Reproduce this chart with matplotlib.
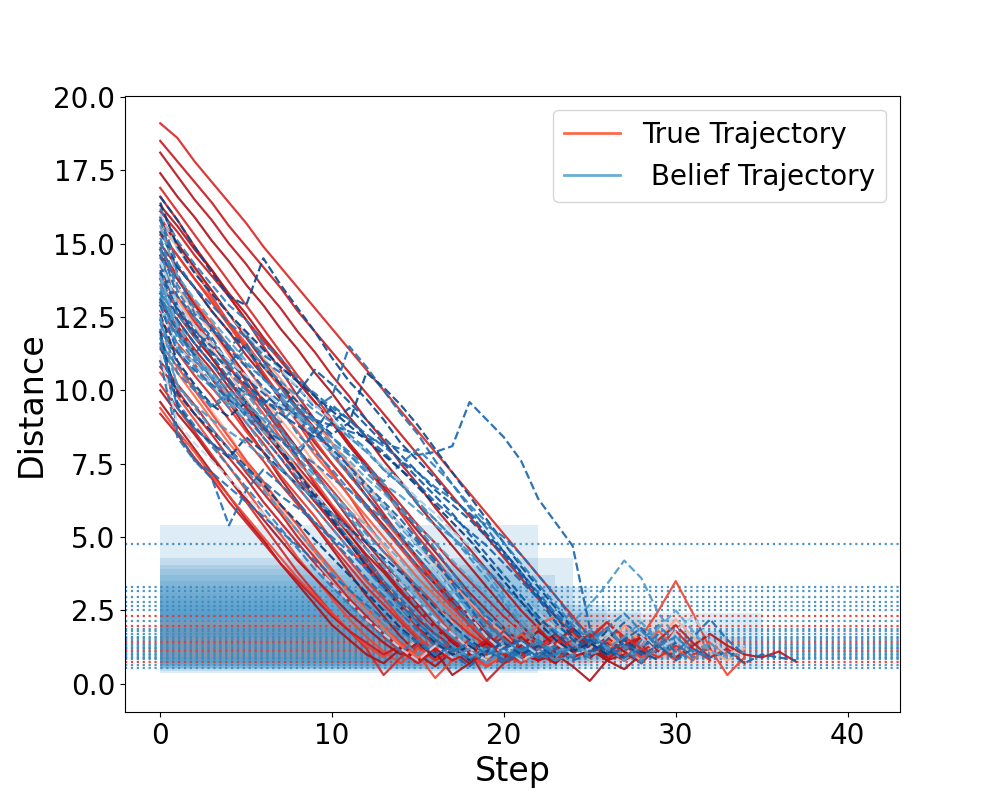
import matplotlib
matplotlib.use("Agg")
import matplotlib.pyplot as plt
from matplotlib.lines import Line2D

# true distance per step (solid red) for each episode
true_trajs = [
    [19.1,18.6,17.8,17.1,16.4,15.7,14.9,14.2,13.5,12.8,12.1,11.4,10.7,10.0,9.3,8.6,7.9,7.2,6.5,5.8,5.1,4.4,3.7,3.0,2.3,1.6,1.1,1.5,0.9,1.3,1.8,1.2,0.8],
    [18.5,17.8,17.1,16.4,15.6,14.9,14.2,13.5,12.7,12.0,11.3,10.6,9.9,9.2,8.5,7.8,7.1,6.4,5.7,5.0,4.3,3.6,2.9,2.3,1.7,1.2,0.9,1.3],
    [18.1,17.3,16.5,15.8,15.0,14.3,13.5,12.8,12.0,11.3,10.5,9.8,9.0,8.3,7.5,6.8,6.0,5.3,4.6,3.9,3.2,2.5,1.9,1.3,0.9,1.2,1.6,1.1,0.7,1.3,0.9],
    [17.4,16.6,15.9,15.1,14.4,13.6,12.9,12.1,11.4,10.6,9.9,9.1,8.4,7.6,6.9,6.1,5.4,4.7,4.0,3.3,2.6,2.0,1.4,1.0,0.6,0.1,0.8,0.5,1.0],
    [16.9,16.1,15.3,14.5,13.7,12.9,12.1,11.3,10.5,9.8,9.0,8.2,7.4,6.6,5.8,5.0,4.3,3.5,2.8,2.1,1.5,1.0,1.4,0.9,1.2,1.6,2.1,1.5,1.0,1.4,0.9,1.2],
    [16.6,15.8,14.9,14.1,13.2,12.4,11.5,10.7,9.8,9.0,8.2,7.4,6.6,5.8,5.0,4.2,3.4,2.7,2.0,1.4,0.9,1.3,0.8,1.1],
    [16.3,15.6,14.8,14.1,13.3,12.6,11.8,11.1,10.3,9.6,8.9,8.1,7.4,6.7,5.9,5.2,4.5,3.8,3.1,2.5,1.9,1.4,1.1,1.5,1.0,1.6,1.2,0.8,1.3,1.0],
    [15.9,15.0,14.1,13.2,12.3,11.5,10.6,9.7,8.9,8.0,7.2,6.4,5.5,4.7,3.9,3.1,2.4,1.7,1.1,0.6,1.0,0.7,1.1],
    [15.3,14.6,13.8,13.1,12.3,11.6,10.8,10.1,9.3,8.6,7.8,7.1,6.4,5.6,4.9,4.2,3.5,2.9,2.2,1.6,1.2,1.7,1.3,0.9,1.4,1.8,1.1,0.8,1.6,2.5,3.5,2.4,1.2,0.3,0.9],
    [14.8,13.9,13.0,12.1,11.2,10.3,9.4,8.6,7.7,6.8,6.0,5.1,4.3,3.5,2.7,1.9,1.3,0.8,1.2,0.6,1.0,0.8],
    [14.2,13.5,12.7,12.0,11.2,10.5,9.7,9.0,8.3,7.5,6.8,6.1,5.4,4.7,4.0,3.3,2.7,2.1,1.5,1.1,1.6,1.2,0.9,1.4,1.0,1.3,1.7,1.2,0.8,1.5,2.2,1.6,1.1,0.8,1.2],
    [13.6,12.8,11.9,11.1,10.3,9.5,8.7,7.9,7.1,6.3,5.5,4.8,4.0,3.3,2.6,1.9,1.3,0.8,1.3,0.7,1.1,1.5,1.0,0.7],
    [13.0,12.1,11.3,10.4,9.6,8.7,7.9,7.0,6.2,5.4,4.6,3.8,3.0,2.3,1.6,1.0,0.6,1.1,0.7,1.2,0.9],
    [12.4,11.6,10.9,10.1,9.4,8.6,7.9,7.1,6.4,5.7,4.9,4.2,3.5,2.9,2.2,1.6,1.1,1.5,1.0,0.6,1.2,0.8,1.3,0.9,1.1,1.4,0.9,1.3,1.7,1.1],
    [11.8,11.0,10.1,9.3,8.5,7.6,6.8,6.0,5.2,4.4,3.6,2.9,2.2,1.6,1.1,1.5,0.9,1.3,0.8,1.0],
    [11.0,10.2,9.5,8.7,8.0,7.2,6.5,5.8,5.0,4.3,3.6,2.9,2.3,1.7,1.2,0.8,1.3,0.9,1.4,1.0,0.7,1.2,0.9],
    [10.6,9.8,9.0,8.2,7.4,6.6,5.8,5.1,4.3,3.6,2.9,2.2,1.6,1.1,0.7,1.2,0.8,1.3,0.9,0.6,1.0,0.8],
    [10.2,9.4,8.6,7.8,7.0,6.2,5.4,4.6,3.8,3.1,2.4,1.8,1.2,0.3,0.9,1.3,0.8,1.1,0.9],
    [9.6,8.8,8.0,7.2,6.4,5.6,4.9,4.1,3.4,2.7,2.0,1.5,1.0,0.7,1.2,0.8,1.1,0.3,0.7,1.1],
    [9.4,8.6,7.9,7.1,6.4,5.7,5.0,4.3,3.6,3.0,2.4,1.8,1.3,0.9,1.4,1.0,0.2,0.8,1.2,0.6,1.0],
    [9.2,8.5,7.7,7.0,6.2,5.5,4.8,4.1,3.5,2.9,2.3,1.8,1.4,1.0,1.3,0.9,1.2,0.8,1.1,0.1,0.7,1.0,0.8,1.2],
    [15.6,14.9,14.1,13.4,12.6,11.9,11.1,10.4,9.6,8.9,8.2,7.5,6.8,6.1,5.4,4.7,4.1,3.4,2.8,2.2,1.7,1.3,0.9,1.3,1.9,1.5,1.1,2.0,1.4,0.9,1.2,0.8],
    [12.9,12.2,11.4,10.7,9.9,9.2,8.4,7.7,6.9,6.2,5.5,4.8,4.1,3.4,2.8,2.2,1.7,1.3,1.0,1.4,1.1,0.8,1.3,1.7,1.2,0.9,1.4,1.1,1.6,1.2,0.9,1.3,1.7,1.3,1.0,0.9,1.1,0.75],
    [14.5,13.8,13.0,12.3,11.5,10.8,10.0,9.3,8.6,7.8,7.1,6.4,5.7,5.0,4.3,3.6,3.0,2.4,1.8,1.3,0.9,1.4,2.0,2.3,1.7,1.1,1.5,0.9,1.3,1.8,1.2,0.8,1.4,1.0],
    [16.1,15.4,14.6,13.9,13.2,12.4,11.7,11.0,10.3,9.6,8.9,8.2,7.5,6.8,6.1,5.4,4.8,4.1,3.5,2.9,2.3,1.8,1.3,0.9,1.3,1.7,1.2,0.8,1.1,1.5,2.0,1.4,0.9,1.2,0.7],
    [15.0,14.2,13.5,12.7,12.0,11.2,10.5,9.7,9.0,8.2,7.5,6.8,6.1,5.4,4.7,4.0,3.4,2.8,2.2,1.6,1.1,1.5,1.0,1.4,1.9,1.3,0.9],
    [14.0,13.2,12.4,11.6,10.8,10.0,9.2,8.4,7.6,6.9,6.1,5.4,4.6,3.9,3.2,2.5,1.9,1.3,0.9,1.3,0.8,1.2,0.9,1.4,1.0,1.4,1.9,1.3,0.9,1.2,0.8],
    [13.3,12.6,11.8,11.1,10.3,9.6,8.8,8.1,7.4,6.7,6.0,5.3,4.6,3.9,3.2,2.6,2.0,1.5,1.1,1.5,1.0,1.4,0.9,1.3,1.8,1.2,0.8,1.3,1.6,1.1],
    [12.0,11.3,10.5,9.8,9.0,8.3,7.6,6.8,6.1,5.4,4.7,4.0,3.3,2.7,2.1,1.5,1.0,1.4,0.9,1.3,1.8,1.2,0.8,1.1,1.5,1.0],
    [11.4,10.6,9.8,9.0,8.2,7.5,6.7,5.9,5.2,4.5,3.8,3.1,2.5,1.9,1.3,0.9,1.3,0.8,1.2,0.7,1.0,0.8],
    [10.0,9.2,8.5,7.7,7.0,6.3,5.6,4.9,4.2,3.6,3.0,2.4,1.9,1.4,1.0,1.4,0.9,1.3,0.8,1.2,1.6,1.1,0.8,1.1],
    [13.8,13.1,12.3,11.6,10.8,10.1,9.4,8.7,8.0,7.3,6.6,5.9,5.2,4.5,3.9,3.3,2.7,2.2,1.7,1.3,0.9,1.3,1.8,1.4,1.0,1.5,2.1,1.6,1.2,0.9,1.3,1.0,1.2],
    [15.4,14.6,13.8,13.0,12.2,11.4,10.6,9.8,9.0,8.3,7.5,6.8,6.0,5.3,4.6,3.9,3.2,2.6,2.0,1.5,1.1,1.5,1.0,1.3,0.9,1.1],
    [14.6,13.8,12.9,12.1,11.3,10.5,9.6,8.8,8.0,7.2,6.4,5.6,4.8,4.1,3.4,2.7,2.0,1.4,1.0,1.4,0.9,1.2,0.8,1.0],
    [13.9,13.1,12.2,11.4,10.6,9.7,8.9,8.1,7.3,6.5,5.7,5.0,4.2,3.5,2.8,2.1,1.5,1.0,1.4,0.9,1.2,0.8,1.0],
    [12.7,11.9,11.2,10.4,9.7,8.9,8.2,7.4,6.7,6.0,5.3,4.6,3.9,3.3,2.6,2.0,1.5,1.1,1.5,1.0,1.4,0.9,1.2,1.6,1.1],
    [15.8,15.0,14.2,13.4,12.6,11.8,11.0,10.2,9.4,8.7,7.9,7.2,6.4,5.7,5.0,4.3,3.6,2.9,2.3,1.7,1.2,1.6,1.1,0.7,1.2,0.9,1.3],
    [11.6,10.8,10.0,9.2,8.4,7.6,6.9,6.1,5.4,4.6,3.9,3.2,2.6,2.0,1.4,1.0,1.4,0.9,1.2,0.8,1.0],
    [13.1,12.4,11.6,10.9,10.1,9.4,8.6,7.9,7.2,6.5,5.8,5.1,4.4,3.8,3.1,2.5,1.9,1.4,1.0,1.4,0.9,1.3,1.8,1.3,0.9,1.2,0.8,1.0],
    [10.8,10.0,9.2,8.5,7.7,7.0,6.2,5.5,4.8,4.1,3.4,2.8,2.2,1.6,1.1,0.7,1.2,0.8,1.1,1.5,1.0,0.8],
]

# believed distance per step (dashed blue) for each episode
belief_trajs = [
    [16.2,15.1,14.3,13.6,12.9,12.4,11.6,11.1,10.4,9.8,9.2,8.5,8.0,7.3,6.8,6.1,5.6,5.0,4.4,3.9,3.3,2.8,2.2,1.8,1.4,1.1,1.3,0.8,1.5,2.0,1.4,0.9,1.3],
    [15.8,14.0,12.6,12.2,11.5,11.9,11.0,10.6,10.1,9.4,9.8,11.5,10.8,10.0,9.2,8.5,7.6,6.8,6.0,5.3,4.5,3.8,3.1,2.4,1.9,1.4,1.0,1.2],
    [14.9,13.2,12.5,11.8,10.9,11.6,10.4,9.8,9.1,8.6,8.0,7.4,6.7,6.1,5.4,4.8,4.1,3.5,2.9,2.3,1.8,1.3,0.9,1.2,0.8,1.0,1.5,2.1,1.6,1.0,1.4],
    [16.6,15.8,14.9,14.0,13.2,12.9,14.5,13.6,12.8,12.0,11.1,10.3,9.7,9.0,8.2,7.6,7.0,6.3,5.8,5.1,4.5,3.8,3.0,2.3,1.6,1.2,1.8,1.3,1.0],
    [13.2,11.8,11.0,10.5,9.8,9.2,8.6,9.4,8.5,7.9,7.3,6.6,6.0,5.3,4.7,4.0,3.4,2.7,2.1,1.6,1.1,1.5,1.0,1.3,0.9,1.4,1.9,1.2,0.7,1.5,1.1,0.8],
    [12.1,8.6,7.6,7.0,5.4,6.6,7.3,6.8,6.2,5.5,4.9,4.3,3.6,3.0,2.4,1.8,1.3,0.9,1.4,1.1,0.7,1.2,0.9,1.0],
    [15.4,14.2,13.5,12.7,12.0,11.4,10.8,10.2,9.6,9.0,8.5,8.9,10.6,10.1,9.5,8.8,8.0,7.2,6.4,5.6,4.8,4.0,3.3,2.6,1.9,1.4,1.0,1.5,1.1,0.8],
    [13.8,12.0,11.1,10.2,9.4,10.3,9.5,8.7,7.9,7.2,6.4,5.7,4.9,4.2,3.5,2.8,2.2,1.6,1.1,0.7,1.2,0.8,1.0],
    [13.0,11.4,10.6,10.1,9.5,9.9,9.1,8.6,8.0,8.5,7.8,7.2,6.6,6.0,5.3,4.7,4.2,3.6,3.0,2.4,1.9,1.4,1.0,1.5,2.1,2.7,3.4,4.2,3.6,2.4,1.6,1.1,1.4,0.9,1.1],
    [14.6,12.9,12.1,11.2,10.4,9.6,8.8,8.0,7.2,6.4,5.7,4.9,4.2,3.5,2.8,2.1,1.5,1.0,0.6,1.1,0.8,1.0],
    [12.8,11.5,10.9,10.2,9.6,9.0,8.4,7.7,7.1,6.5,5.8,5.2,4.6,4.0,3.4,2.8,2.2,1.7,1.2,0.9,1.3,0.8,1.1,1.4,1.0,1.2,1.7,2.2,1.6,1.0,1.8,2.3,1.5,1.0,1.3],
    [15.1,13.4,12.5,11.7,10.9,10.2,9.5,10.1,9.3,8.6,7.9,7.1,6.4,5.7,5.0,4.3,3.6,2.9,2.2,1.6,1.1,1.5,1.0,0.8],
    [11.5,9.9,9.2,8.6,8.0,7.4,6.8,6.1,5.5,4.9,4.3,3.7,3.1,2.5,1.9,1.4,0.9,1.3,0.8,1.1,0.9],
    [13.5,12.3,11.6,10.9,10.2,9.6,9.0,8.3,7.7,7.1,6.4,5.8,5.1,4.5,3.9,3.3,2.6,2.0,1.5,1.0,1.4,0.9,1.2,0.8,1.0,1.4,1.9,1.3,0.8,1.2],
    [11.2,8.9,8.2,7.6,7.0,6.4,5.8,5.2,4.6,4.0,3.4,2.8,2.2,1.7,1.2,0.8,1.3,0.9,1.1,0.8],
    [12.4,10.9,10.1,9.4,9.8,9.1,8.4,7.7,7.0,6.3,5.6,4.9,4.2,3.5,2.9,2.3,1.7,1.2,0.8,1.3,0.9,1.2,1.0],
    [11.9,10.2,9.4,8.7,8.0,7.3,6.6,5.9,5.2,4.5,3.8,3.2,2.6,2.0,1.5,1.0,1.4,0.9,1.2,0.7,1.1,0.9],
    [11.6,9.6,8.8,8.1,7.4,6.7,6.0,5.3,4.6,3.9,3.3,2.7,2.1,1.6,1.1,1.5,1.0,1.3,0.9],
    [12.6,11.0,10.2,9.5,9.1,9.6,8.8,8.0,7.2,6.4,5.6,4.8,4.0,3.3,2.6,2.0,1.4,1.0,1.3,0.9],
    [13.3,12.0,11.2,10.4,9.6,8.9,8.1,7.4,6.7,6.0,5.3,4.6,3.9,3.2,2.6,2.0,1.5,1.1,1.4,1.0,1.2],
    [11.0,8.4,7.6,7.2,6.7,6.2,5.7,5.2,4.7,4.2,3.7,3.2,2.7,2.2,1.8,1.4,1.0,1.3,0.9,1.2,0.8,1.1,0.9,1.0],
    [16.0,14.8,14.0,13.3,12.6,11.9,11.3,10.7,10.1,9.5,9.0,8.4,7.9,7.4,6.9,6.3,5.8,5.2,4.7,4.2,3.6,3.0,2.4,1.9,1.5,1.1,1.6,2.2,1.7,1.2,1.5,1.0],
    [14.0,12.4,11.6,10.9,10.3,9.9,9.6,9.4,9.2,9.0,8.8,8.6,8.4,8.2,8.0,7.8,7.9,8.1,9.6,9.0,8.4,7.6,6.3,5.5,4.7,1.9,1.1,1.4,1.0,1.3,0.8,1.2,0.9,1.1,0.7,1.0,0.9,0.8],
    [15.6,13.9,13.1,12.4,11.7,11.0,10.4,9.8,9.2,8.7,8.1,7.6,7.0,6.5,5.9,5.4,4.8,4.2,3.6,3.0,2.4,1.8,1.3,0.9,1.4,1.0,1.2,0.8,1.3,1.9,2.5,1.8,1.1,0.9],
    [15.9,14.3,13.5,12.9,12.3,11.8,11.2,10.8,10.3,9.9,9.4,9.0,8.5,8.1,7.6,7.2,6.7,6.3,5.8,5.4,5.0,4.4,3.7,3.0,2.2,1.6,1.2,0.9,1.2,1.7,1.1,1.6,2.2,1.5,1.0],
    [14.3,12.8,12.0,11.5,11.0,10.4,9.9,9.4,9.9,10.7,10.2,9.6,9.0,8.4,7.8,7.2,6.6,6.1,5.6,5.0,4.4,3.7,2.9,2.1,1.5,1.1,1.4],
    [13.6,11.9,11.2,10.6,10.0,9.5,9.0,9.7,9.1,8.7,8.2,7.8,7.3,6.8,6.4,5.9,5.4,5.0,4.5,3.8,3.0,2.2,1.5,1.1,1.3,1.8,1.2,1.6,2.1,1.4,0.9],
    [12.9,11.3,10.7,10.2,9.7,9.2,8.7,8.3,7.8,8.6,9.5,9.0,8.4,7.9,7.3,6.8,6.2,5.7,5.2,4.7,4.1,3.5,2.9,2.3,1.8,1.4,1.0,1.5,1.9,1.2],
    [12.3,10.6,10.0,9.5,9.9,9.3,8.8,8.4,7.9,7.5,7.0,6.6,6.1,5.6,5.1,4.5,3.9,3.2,2.6,2.0,1.5,1.1,1.5,1.0,1.3,0.9],
    [13.9,12.2,11.3,10.5,9.8,9.2,8.6,8.0,7.5,7.0,6.5,5.9,5.4,4.8,4.2,3.5,2.8,2.1,1.5,1.1,1.4,1.0],
    [12.0,9.5,8.7,8.2,7.7,8.4,7.9,7.3,6.8,6.3,5.8,5.3,4.8,4.3,3.8,3.2,2.6,2.0,1.5,1.1,1.4,1.0,1.3,0.9],
    [15.2,13.6,12.8,12.1,11.5,10.9,10.4,9.9,9.4,8.9,8.4,7.9,7.4,6.9,7.5,8.0,7.4,6.8,6.1,5.5,4.8,4.1,3.4,2.7,2.0,1.5,1.9,2.4,1.8,1.3,1.6,1.1,0.9],
    [14.8,12.6,11.8,11.3,10.8,11.4,10.9,10.3,9.8,9.3,8.9,8.4,7.9,7.3,6.8,6.2,5.6,5.0,4.3,3.6,2.8,2.0,1.4,1.0,1.3,0.9],
    [13.1,12.0,11.2,12.1,11.4,10.8,10.1,9.6,9.0,8.5,8.0,7.4,6.8,6.2,5.6,4.9,4.2,3.4,2.6,1.8,1.2,1.5,1.0,1.2],
    [14.4,12.9,12.2,11.6,11.0,10.5,10.0,9.5,9.0,8.4,7.9,7.3,6.7,6.1,5.4,4.7,3.9,3.1,2.3,1.6,1.1,1.4,1.0],
    [13.4,11.5,10.8,10.1,10.6,10.0,9.4,8.9,9.5,9.0,8.4,7.8,7.2,6.6,6.0,5.3,4.6,3.8,3.0,2.2,1.5,1.1,1.4,1.0,1.2],
    [16.4,14.9,14.0,13.3,12.6,12.0,11.4,10.8,10.3,9.8,9.3,8.8,8.3,7.8,7.3,6.7,6.1,5.5,4.9,4.2,3.5,2.8,2.1,1.5,1.1,1.4,1.0],
    [12.5,10.1,9.5,9.0,8.6,8.2,7.7,7.3,6.8,6.3,5.8,5.2,4.6,4.0,3.3,2.6,1.9,1.3,0.9,1.2,0.9],
    [14.1,12.7,11.9,11.3,10.7,10.2,9.7,9.2,8.8,8.4,8.9,9.4,8.8,8.2,7.6,7.0,6.4,5.8,5.1,4.4,3.7,3.0,2.3,1.7,1.2,1.5,1.1,0.9],
    [11.8,9.4,8.7,8.2,7.8,7.3,6.9,6.4,6.0,5.5,5.0,4.5,3.9,3.3,2.7,2.1,1.5,1.1,1.4,1.0,1.2,0.9],
]

# colormap shade of each episode
shades = [0.7, 0.75, 0.8, 0.9, 0.7, 0.75, 0.9, 0.65, 0.6, 0.8, 0.3, 0.7,
          0.95, 0.65, 0.25, 0.75, 0.6, 0.7, 0.95, 0.6, 0.75, 0.35, 0.8, 0.55,
          0.75, 0.85, 0.6, 0.8, 0.7, 0.5, 0.9, 0.7,
          0.65, 0.8, 0.3, 0.7, 0.95, 0.6, 0.85, 0.75]

# goal radius lines (dotted)
goal_levels = [4.75, 3.3, 3.15, 2.95, 2.8, 2.65, 2.5, 2.3, 2.15, 1.97, 1.87, 1.8, 1.7,
               1.6, 1.55, 1.5, 1.42, 1.37, 1.32, 1.27, 1.22, 1.17, 1.12, 1.07, 1.02,
               0.97, 0.92, 0.88, 0.84, 0.75, 0.65, 0.55]
goal_kind = ['b', 'b', 'b', 'b', 'b', 'b', 'b', 'r', 'b', 'r', 'b', 'b', 'b',
             'b', 'b', 'b', 'r', 'b', 'b', 'b', 'b', 'b', 'r', 'b', 'b',
             'b', 'b', 'b', 'b', 'r', 'b', 'b']

# belief uncertainty boxes: top, bottom, last step
box_top = [5.4, 4.3, 4.05, 3.9, 3.7, 3.5, 3.3, 3.1, 2.9, 2.7, 2.5, 2.4, 2.2, 2.0, 1.8, 1.6]
box_bottom = [0.37, 0.45, 0.5, 0.55, 0.55, 0.6, 0.6, 0.65, 0.7, 0.7, 0.75, 0.5, 0.8, 0.85, 0.85, 0.9]
box_end = [22, 24, 21, 20, 23, 19, 25, 18, 22, 26, 28, 35, 30, 24, 33, 34]
box_kind = ['b', 'b', 'b', 'b', 'b', 'b', 'b', 'b', 'b', 'b', 'b', 'b', 'r', 'b', 'b', 'r']

reds = plt.get_cmap('Reds')
blues = plt.get_cmap('Blues')

fig, ax = plt.subplots(figsize=(10, 8), dpi=100)

for top, bot, end, k in zip(box_top, box_bottom, box_end, box_kind):
    c = blues(0.6) if k == 'b' else reds(0.4)
    ax.fill_between([0, end], bot, top, color=c, alpha=0.18 if k == 'b' else 0.2, lw=0)

for lvl, k in zip(goal_levels, goal_kind):
    c = blues(0.65) if k == 'b' else reds(0.65)
    ax.axhline(lvl, color=c, ls=':', lw=1.6, alpha=0.9)

# true paths first, beliefs drawn over them
for tr, s in zip(true_trajs, shades):
    ax.plot(range(len(tr)), tr, color=reds(min(s, 0.85)), lw=1.6, alpha=0.9)
for be, s in zip(belief_trajs, shades):
    ax.plot(range(len(be)), be, color=blues(s), lw=1.6, ls='--', alpha=0.9)

ax.set_xlim(-2.05, 43.05)
ax.set_ylim(-0.96, 20.03)
ax.set_xlabel('Step', fontsize=24)
ax.set_ylabel('Distance', fontsize=24)
ax.tick_params(labelsize=20)

handles = [Line2D([0], [0], color=reds(0.5), lw=2),
           Line2D([0], [0], color=blues(0.5), lw=2)]
ax.legend(handles, ['True Trajectory', ' Belief Trajectory'], fontsize=20, loc='upper right')

fig.savefig('out.png')
